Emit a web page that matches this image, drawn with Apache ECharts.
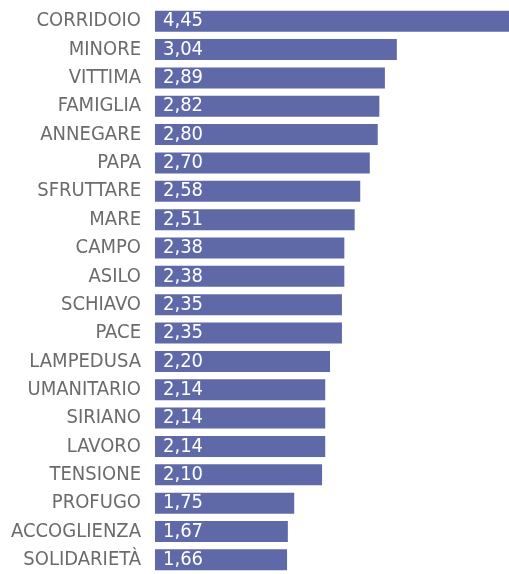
<!DOCTYPE html>
<html>
<head>
<meta charset="utf-8">
<script src="https://cdn.jsdelivr.net/npm/echarts@6/dist/echarts.min.js"></script>
<style>
  html, body { margin: 0; padding: 0; background: #fff; }
  #chart { width: 509px; height: 574px; }
</style>
</head>
<body>
<div id="chart"></div>
<script>
const words = ['CORRIDOIO', 'MINORE', 'VITTIMA', 'FAMIGLIA', 'ANNEGARE', 'PAPA', 'SFRUTTARE', 'MARE', 'CAMPO', 'ASILO',
  'SCHIAVO', 'PACE', 'LAMPEDUSA', 'UMANITARIO', 'SIRIANO', 'LAVORO', 'TENSIONE', 'PROFUGO', 'ACCOGLIENZA', 'SOLIDARIETÀ'];
const scores = [4.45, 3.04, 2.89, 2.82, 2.80, 2.70, 2.58, 2.51, 2.38, 2.38,
  2.35, 2.35, 2.20, 2.14, 2.14, 2.14, 2.10, 1.75, 1.67, 1.66];

const font = '"Liberation Sans Narrow", "DejaVu Sans Condensed", sans-serif';

let myChart = echarts.init(document.getElementById('chart'));
myChart.setOption({
  animation: false,
  grid: { left: 155, right: 0, top: 7, height: 574 },
  xAxis: {
    type: 'value',
    min: 0,
    max: 4.45,
    show: false
  },
  yAxis: {
    type: 'category',
    data: words,
    inverse: true,
    axisLine: { show: false },
    axisTick: { show: false },
    axisLabel: {
      margin: 14,
      color: '#6b6b6b',
      fontSize: 20,
      fontFamily: font
    }
  },
  series: [
    {
      type: 'bar',
      data: scores,
      barWidth: 21,
      itemStyle: { color: '#5f69a8' },
      label: {
        show: true,
        position: 'insideLeft',
        distance: 8,
        color: '#fff',
        fontSize: 20,
        fontFamily: font,
        formatter: p => p.value.toFixed(2).replace('.', ',')
      }
    }
  ]
});
</script>
</body>
</html>
